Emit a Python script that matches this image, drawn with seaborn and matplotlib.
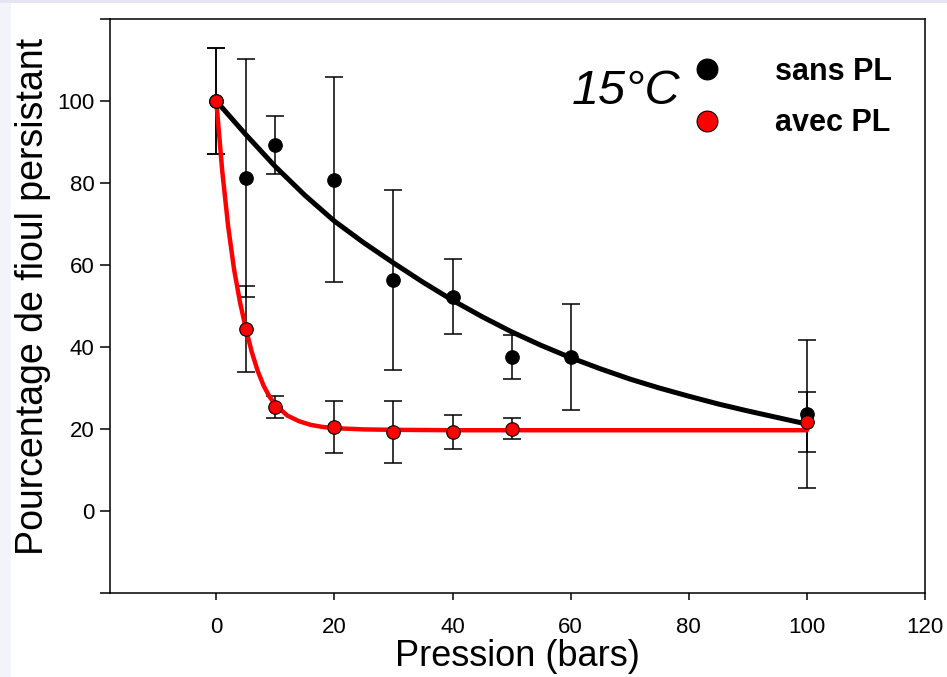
import numpy as np
import pandas as pd
import matplotlib
matplotlib.use("Agg")
import matplotlib.pyplot as plt
from matplotlib.lines import Line2D
from matplotlib.patches import Rectangle
import seaborn as sns

# ---- data ----
pressure = [0, 5, 10, 20, 30, 40, 50, 60, 100]
sans_pl = [100, 81.2, 89.3, 80.8, 56.3, 52.3, 37.6, 37.6, 23.6]
sans_pl_err = [13, 29, 7, 25, 22, 9.2, 5.4, 13, 18]

pressure_avec = [0, 5, 10, 20, 30, 40, 50, 100]
avec_pl = [100, 44.4, 25.4, 20.5, 19.3, 19.3, 20.1, 21.7]
avec_pl_err = [13, 10.6, 2.6, 6.3, 7.5, 4.2, 2.6, 7.3]

# fitted curves as drawn in the reference
fit_sans_x = [0, 5, 10, 15, 20, 25, 30, 35, 40, 45, 50, 55, 60, 65, 70, 75, 80, 85, 90, 95, 100]
fit_sans_y = [100, 91.8, 84.0, 77.0, 70.7, 65.4, 60.5, 55.8, 51.4, 47.4, 43.7, 40.4, 37.4, 34.7,
              32.2, 30.0, 28.0, 26.1, 24.4, 22.8, 21.2]
fit_avec_x = [0, 1, 2, 3, 4, 5, 6, 7, 8, 9, 10, 12, 14, 16, 18, 20, 25, 30, 40, 50, 60, 80, 100]
fit_avec_y = [100, 83.0, 69.5, 59.0, 51.0, 44.5, 38.8, 34.2, 30.6, 27.9, 25.9, 23.3, 21.9, 21.0,
              20.5, 20.2, 19.9, 19.8, 19.7, 19.7, 19.7, 19.7, 19.7]

x_ticks = [0, 20, 40, 60, 80, 100, 120]
y_ticks = [-20, 0, 20, 40, 60, 80, 100, 120]
y_tick_labels = ["", "0", "20", "40", "60", "80", "100", ""]

series_names = ["sans PL", "avec PL"]
temperature_label = "15°C"
x_label = "Pression (bars)"
y_label = "Pourcentage de fioul persistant"

# ---- plotting ----
sns.set_style("ticks")
plt.rcParams["font.family"] = ["Liberation Sans", "DejaVu Sans"]
plt.rcParams["text.color"] = "black"
plt.rcParams["axes.labelcolor"] = "black"

W, H = 947, 677
fig = plt.figure(figsize=(W / 100, H / 100), dpi=100)
fig.patch.set_facecolor("white")
# slide background strips
fig.patches.append(Rectangle((0, 0), 11 / W, 1, transform=fig.transFigure,
                             facecolor="#f3f3fa", edgecolor="none", zorder=-5))
fig.patches.append(Rectangle((0, 1 - 3 / H), 1, 3 / H, transform=fig.transFigure,
                             facecolor="#e4e4f3", edgecolor="none", zorder=-5))

ax = fig.add_axes([110 / W, (H - 593) / H, (925 - 110) / W, (593 - 19) / H])
ax.set_facecolor("white")

df_sans = pd.DataFrame({"x": pressure, "y": sans_pl, "err": sans_pl_err})
df_avec = pd.DataFrame({"x": pressure_avec, "y": avec_pl, "err": avec_pl_err})
df_fit_sans = pd.DataFrame({"x": fit_sans_x, "y": fit_sans_y})
df_fit_avec = pd.DataFrame({"x": fit_avec_x, "y": fit_avec_y})

# error bars
ax.errorbar(df_sans["x"], df_sans["y"], yerr=df_sans["err"], fmt="none",
            ecolor="black", elinewidth=1.1, capsize=6.5, capthick=1.1, zorder=2)
ax.errorbar(df_avec["x"], df_avec["y"], yerr=df_avec["err"], fmt="none",
            ecolor="black", elinewidth=1.1, capsize=6.5, capthick=1.1, zorder=2)

# fitted curves
sns.lineplot(data=df_fit_sans, x="x", y="y", ax=ax, color="black", linewidth=3.6,
             sort=True, zorder=3)
sns.lineplot(data=df_fit_avec, x="x", y="y", ax=ax, color="#ff0000", linewidth=3.2,
             sort=True, zorder=3)

# points
sns.scatterplot(data=df_sans, x="x", y="y", ax=ax, color="black", s=95,
                edgecolor="black", linewidth=0.8, zorder=4)
sns.scatterplot(data=df_avec, x="x", y="y", ax=ax, color="#ff0000", s=95,
                edgecolor="black", linewidth=0.8, zorder=5)

ax.set_xlim(-18, 120)
ax.set_ylim(-20, 120)
ax.set_xticks(x_ticks)
ax.set_yticks(y_ticks)
ax.set_yticklabels(y_tick_labels)

for s in ax.spines.values():
    s.set_visible(True)
    s.set_color("black")
    s.set_linewidth(1.1)

ax.tick_params(axis="x", direction="out", length=5, width=1.1, pad=12,
               labelsize=16, colors="black", top=False)
ax.tick_params(axis="y", direction="out", length=7, width=1.1, pad=4,
               labelsize=16, colors="black", right=False)

ax.set_xlabel(x_label, fontsize=26, color="black")
ax.set_ylabel(y_label, fontsize=27, color="black")
ax.xaxis.set_label_coords(0.5, -0.081)
ax.yaxis.set_label_coords(-0.073, 0.517)

ax.text(0.566, 0.873, temperature_label, transform=ax.transAxes, fontsize=35,
        style="italic", ha="left", va="center", color="black")

handles = [
    Line2D([], [], linestyle="none", marker="o", markersize=15, markerfacecolor="black",
           markeredgecolor="black", markeredgewidth=0.8),
    Line2D([], [], linestyle="none", marker="o", markersize=15, markerfacecolor="#ff0000",
           markeredgecolor="black", markeredgewidth=0.8),
]
leg = ax.legend(handles, series_names, loc="upper left",
                bbox_to_anchor=(692 / W, 1 - 57 / H), bbox_transform=fig.transFigure,
                frameon=False, borderpad=0, borderaxespad=0, handlelength=1.0,
                handletextpad=1.7, labelspacing=0.7,
                prop={"weight": "bold", "size": 22})
for t in leg.get_texts():
    t.set_color("black")

fig.savefig("out.png", dpi=100)
